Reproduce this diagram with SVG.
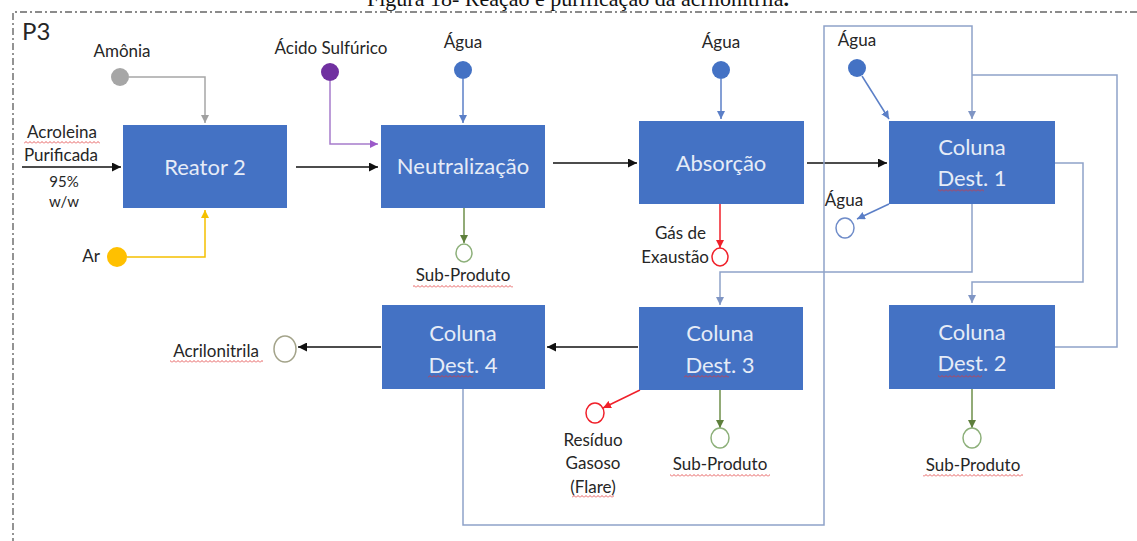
<svg xmlns="http://www.w3.org/2000/svg" width="1137" height="541" viewBox="0 0 1137 541">
  <style>
    .box{fill:#4472C4}
    .nl{font-family:Lato,"Liberation Sans",sans-serif;font-size:22px;fill:#E6ECF7;text-anchor:middle}
    .lb{font-family:Lato,"Liberation Sans",sans-serif;font-size:17px;fill:#262626;text-anchor:middle}
    .sm{font-size:15px}
    .ln{fill:none;stroke-width:1.5}
    .blk{stroke:#111}
    .loop{stroke:#8EA2C9}
    .wat{stroke:#5B7FC7}
    .grn{stroke:#6E8F4A}
    .red{stroke:#F0202A}
    .frame{fill:none;stroke:#666;stroke-width:1.4;stroke-dasharray:7 3 2 3}
    .wave{fill:url(#wave)}
  </style>
  <defs>
    <marker id="aBlk" viewBox="0 0 10 10" refX="10" refY="5" markerWidth="9" markerHeight="9" markerUnits="userSpaceOnUse" orient="auto"><path d="M0,0 L10,5 L0,10 z" fill="#111"/></marker>
    <marker id="aLoop" viewBox="0 0 10 10" refX="10" refY="5" markerWidth="8" markerHeight="8" markerUnits="userSpaceOnUse" orient="auto"><path d="M0,0 L10,5 L0,10 z" fill="#7F95C4"/></marker>
    <marker id="aWat" viewBox="0 0 10 10" refX="10" refY="5" markerWidth="8" markerHeight="8" markerUnits="userSpaceOnUse" orient="auto"><path d="M0,0 L10,5 L0,10 z" fill="#5B7FC7"/></marker>
    <marker id="aGray" viewBox="0 0 10 10" refX="10" refY="5" markerWidth="8" markerHeight="8" markerUnits="userSpaceOnUse" orient="auto"><path d="M0,0 L10,5 L0,10 z" fill="#A0A0A0"/></marker>
    <marker id="aPur" viewBox="0 0 10 10" refX="10" refY="5" markerWidth="8" markerHeight="8" markerUnits="userSpaceOnUse" orient="auto"><path d="M0,0 L10,5 L0,10 z" fill="#9B59C9"/></marker>
    <marker id="aYel" viewBox="0 0 10 10" refX="10" refY="5" markerWidth="8" markerHeight="8" markerUnits="userSpaceOnUse" orient="auto"><path d="M0,0 L10,5 L0,10 z" fill="#F5C000"/></marker>
    <marker id="aGrn" viewBox="0 0 10 10" refX="10" refY="5" markerWidth="8" markerHeight="8" markerUnits="userSpaceOnUse" orient="auto"><path d="M0,0 L10,5 L0,10 z" fill="#5E7F3C"/></marker>
    <marker id="aRed" viewBox="0 0 10 10" refX="10" refY="5" markerWidth="8" markerHeight="8" markerUnits="userSpaceOnUse" orient="auto"><path d="M0,0 L10,5 L0,10 z" fill="#F0202A"/></marker>
    <!-- spell-check style squiggle -->
    <pattern id="wave" width="4" height="3" patternUnits="userSpaceOnUse"><path d="M0 2.5 L2 0.5 L4 2.5" fill="none" stroke="#E03535" stroke-width="0.8"/></pattern>
  </defs>

  <rect width="1137" height="541" fill="#fff"/>

  <!-- caption (runs off the top edge) -->
  <text x="578" y="6" font-family="'Liberation Serif',serif" font-size="22" text-anchor="middle" fill="#111">Figura 18- Reação e purificação da acrilonitrila<tspan font-weight="bold">.</tspan></text>

  <!-- frame -->
  <path class="frame" d="M1137 12 H13 V541"/>
  <text x="22" y="40" font-family="Lato,'Liberation Sans',sans-serif" font-size="24" fill="#262626">P3</text>

  <!-- connectors -->
  <g id="connectors">
    <!-- main train -->
    <path class="ln blk" d="M22 167 H121" marker-end="url(#aBlk)"/>
    <path class="ln blk" d="M296 167 H378" marker-end="url(#aBlk)"/>
    <path class="ln blk" d="M553 163 H637" marker-end="url(#aBlk)"/>
    <path class="ln blk" d="M807 163 H887" marker-end="url(#aBlk)"/>
    <path class="ln blk" d="M638 347 H547" marker-end="url(#aBlk)"/>
    <path class="ln blk" d="M381 347 H298" marker-end="url(#aBlk)"/>
    <!-- feeds -->
    <path class="ln" stroke="#A6A6A6" d="M129 77 H205 V123" marker-end="url(#aGray)"/>
    <path class="ln" stroke="#A67CCB" d="M330 81 V144 H378" marker-end="url(#aPur)"/>
    <path class="ln" stroke="#F5C000" d="M127 257 H205 V210" marker-end="url(#aYel)"/>
    <path class="ln wat" d="M463 79 V123" marker-end="url(#aWat)"/>
    <path class="ln wat" d="M721 79 V119" marker-end="url(#aWat)"/>
    <path class="ln wat" d="M862 76 L889 119" marker-end="url(#aWat)"/>
    <path class="ln wat" d="M889 204 L857 219" marker-end="url(#aWat)"/>
    <!-- products -->
    <path class="ln grn" d="M464 208 V243" marker-end="url(#aGrn)"/>
    <path class="ln red" d="M720 204 V248" marker-end="url(#aRed)"/>
    <path class="ln grn" d="M720 390 V428" marker-end="url(#aGrn)"/>
    <path class="ln grn" d="M972 389 V428" marker-end="url(#aGrn)"/>
    <path class="ln red" d="M640 390 L603 408" marker-end="url(#aRed)"/>
    <!-- column recycles -->
    <path class="ln loop" d="M463 389 V525 H824 V26 H972 V119" marker-end="url(#aLoop)"/>
    <path class="ln loop" d="M1055 347 H1117 V75 H972"/>
    <path class="ln loop" d="M1055 163 H1083 V282 H972 V303" marker-end="url(#aLoop)"/>
    <path class="ln loop" d="M972 204 V272 H720 V305" marker-end="url(#aLoop)"/>
  </g>

  <!-- process units -->
  <g id="reator2">
    <rect class="box" x="123" y="125" width="164" height="83"/>
    <text class="nl" x="205" y="175">Reator 2</text>
  </g>
  <g id="neutralizacao">
    <rect class="box" x="381" y="125" width="164" height="83"/>
    <text class="nl" x="463" y="174">Neutralização</text>
  </g>
  <g id="absorcao">
    <rect class="box" x="639" y="121" width="165" height="83"/>
    <text class="nl" x="721" y="171">Absorção</text>
  </g>
  <g id="coluna1">
    <rect class="box" x="889" y="121" width="166" height="83"/>
    <text class="nl" x="972" y="155">Coluna</text>
    <text class="nl" x="972" y="186">Dest. 1</text>
    <rect class="wave" x="938" y="189" width="46" height="3"/>
  </g>
  <g id="coluna2">
    <rect class="box" x="889" y="305" width="166" height="84"/>
    <text class="nl" x="972" y="371" dy="-31">Coluna</text>
    <text class="nl" x="972" y="371">Dest. 2</text>
    <rect class="wave" x="938" y="375" width="44" height="3"/>
  </g>
  <g id="coluna3">
    <rect class="box" x="639" y="307" width="164" height="83"/>
    <text class="nl" x="720" y="341">Coluna</text>
    <text class="nl" x="720" y="373">Dest. 3</text>
    <rect class="wave" x="684" y="375" width="45" height="3"/>
  </g>
  <g id="coluna4">
    <rect class="box" x="382" y="305" width="163" height="84"/>
    <text class="nl" x="463" y="341">Coluna</text>
    <text class="nl" x="463" y="373">Dest. 4</text>
    <rect class="wave" x="428" y="375" width="45" height="3"/>
  </g>

  <!-- inlet streams -->
  <g id="amonia">
    <circle cx="120" cy="77" r="9" fill="#A6A6A6"/>
    <text class="lb" x="122" y="57">Amônia</text>
  </g>
  <g id="acido">
    <circle cx="330" cy="72" r="9" fill="#7030A0"/>
    <text class="lb" x="331" y="54">Ácido Sulfúrico</text>
  </g>
  <g id="agua1">
    <circle cx="463" cy="70" r="9" fill="#4472C4"/>
    <text class="lb" x="463" y="48">Água</text>
  </g>
  <g id="agua2">
    <circle cx="721" cy="70" r="9" fill="#4472C4"/>
    <text class="lb" x="721" y="48">Água</text>
  </g>
  <g id="agua3">
    <circle cx="857" cy="68" r="9" fill="#4472C4"/>
    <text class="lb" x="857" y="46">Água</text>
  </g>
  <g id="ar">
    <circle cx="117" cy="257" r="10" fill="#FFC000"/>
    <text class="lb" x="100" y="262" style="text-anchor:end">Ar</text>
  </g>
  <g id="acroleina">
    <text class="lb" x="62" y="138">Acroleina</text>
    <rect class="wave" x="24" y="141" width="76" height="3"/>
    <text class="lb" x="61" y="161">Purificada</text>
    <text class="lb sm" x="64" y="187">95%</text>
    <text class="lb sm" x="64" y="207">w/w</text>
  </g>

  <!-- outlet streams -->
  <g id="subproduto1">
    <ellipse cx="464" cy="253" rx="8" ry="9" fill="#fff" stroke="#8DB07A" stroke-width="1.5"/>
    <text class="lb" x="463" y="281">Sub-Produto</text>
    <rect class="wave" x="413" y="285" width="100" height="3"/>
  </g>
  <g id="gas-exaustao">
    <ellipse cx="720" cy="257" rx="8" ry="9" fill="#fff" stroke="#F0202A" stroke-width="1.5"/>
    <text class="lb" x="706" y="239" style="text-anchor:end">Gás de</text>
    <text class="lb" x="709" y="263" style="text-anchor:end">Exaustão</text>
  </g>
  <g id="agua-saida">
    <ellipse cx="845" cy="228" rx="9" ry="10" fill="#fff" stroke="#6F8CC9" stroke-width="1.5"/>
    <text class="lb" x="844" y="206">Água</text>
  </g>
  <g id="acrilonitrila">
    <ellipse cx="285" cy="349" rx="11" ry="13" fill="#fff" stroke="#A3A38A" stroke-width="1.5"/>
    <text class="lb" x="216" y="357">Acrilonitrila</text>
    <rect class="wave" x="170" y="360" width="93" height="3"/>
  </g>
  <g id="residuo">
    <ellipse cx="595" cy="413" rx="9" ry="10" fill="#fff" stroke="#F0202A" stroke-width="1.5"/>
    <text class="lb" x="593" y="446">Resíduo</text>
    <text class="lb" x="593" y="469">Gasoso</text>
    <text class="lb" x="593" y="493">(Flare)</text>
    <rect class="wave" x="572" y="495" width="42" height="3"/>
  </g>
  <g id="subproduto3">
    <ellipse cx="720" cy="438" rx="9" ry="10" fill="#fff" stroke="#8DB07A" stroke-width="1.5"/>
    <text class="lb" x="720" y="470">Sub-Produto</text>
    <rect class="wave" x="670" y="474" width="100" height="3"/>
  </g>
  <g id="subproduto2">
    <ellipse cx="972" cy="438" rx="9" ry="10" fill="#fff" stroke="#8DB07A" stroke-width="1.5"/>
    <text class="lb" x="973" y="471">Sub-Produto</text>
    <rect class="wave" x="923" y="474" width="100" height="3"/>
  </g>
</svg>
